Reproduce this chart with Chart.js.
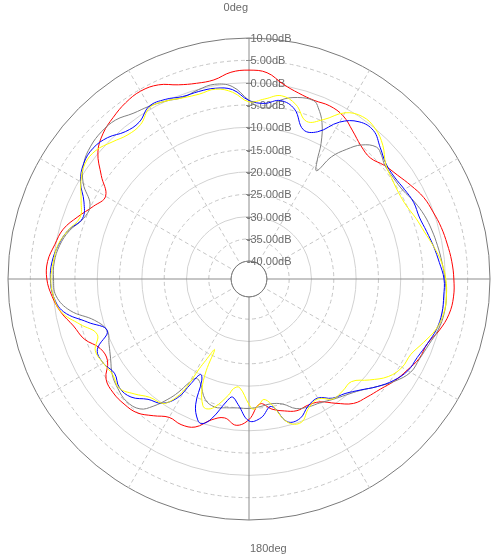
<!DOCTYPE html>
<html>
<head>
<meta charset="utf-8">
<script src="https://cdn.jsdelivr.net/npm/chart.js@4/dist/chart.umd.min.js"></script>
<style>
  html, body { margin: 0; padding: 0; background: #fff; }
  #wrap { width: 495px; height: 558px; }
</style>
</head>
<body>
<div id="wrap"><canvas id="chart"></canvas></div>
<script>
// radial ticks (dB) and the two direction captions
const tickValues = [-40, -35, -30, -25, -20, -15, -10, -5, 0, 5, 10];
const angleLabels = ['0deg', '180deg'];

// each trace: angle in degrees (clockwise from top) and level in dB
const redAngles = [0,5,10,15,20,25,30,35,40,45,50,55,60,65,70,75,80,85,90,95,100,105,110,115,120,125,130,135,140,145,150,155,160,165,170,175,180,185,190,195,200,205,210,215,220,225,230,235,240,245,250,255,260,265,270,275,280,285,290,295,300,305,310,315,320,325,330,335,340,345,350,355];
const redDb = [2.8,2.4,0.3,-0.9,-1.4,-1.2,-1.8,-3.5,-5.0,-5.6,-4.4,-3.4,-2.1,-0.8,-0.1,0.6,1.1,1.6,1.9,2.0,1.5,0.2,-1.5,-1.9,-3.1,-4.2,-5.6,-6.6,-7.6,-10.0,-12.2,-12.8,-12.6,-13.4,-14.4,-15.9,-12.5,-11.1,-12.4,-11.3,-8.7,-8.0,-8.2,-6.6,-4.9,-4.4,-4.3,-4.9,-7.4,-7.2,-4.7,-3.3,-1.2,0.3,1.3,1.3,0.2,-0.9,-3.2,-5.5,-6.9,-3.6,0.2,2.2,3.3,4.2,4.6,4.0,2.3,1.4,1.3,2.5];

const grayAngles = [0,3,5,7,10,15,20,22,25,28,30,32,34,37,40,44,47,50,55,60,65,70,75,80,85,90,95,100,105,110,115,120,125,130,135,140,145,150,155,160,165,170,175,180,185,190,195,200,205,208,210,212,214,217,220,225,230,235,240,245,250,255,260,265,270,275,280,285,290,295,300,305,310,315,320,325,330,335,340,345,350,355];
const grayDb = [-4.0,-5.3,-5.5,-5.2,-3.3,-1.9,-1.5,-2.6,-5.3,-9.6,-13.5,-15.4,-11.0,-7.6,-4.8,-2.9,-3.4,-4.3,-4.5,-4.2,-3.1,-2.2,-1.6,-1.1,-0.6,-0.1,0.4,0.4,-0.1,-1.1,-1.8,-2.2,-4.1,-6.5,-8.7,-10.1,-11.1,-12.0,-12.4,-13.1,-15.0,-15.6,-15.3,-15.0,-15.0,-14.7,-14.3,-15.3,-18.2,-18.8,-17.2,-14.0,-11.5,-8.3,-6.0,-5.2,-5.7,-6.6,-8.2,-9.4,-10.2,-8.2,-3.3,-0.6,-0.2,-0.2,-0.9,-2.3,-4.5,-4.7,-1.1,1.2,2.3,2.7,2.5,1.3,0.7,0.0,-0.7,-0.1,0.3,-0.7];

const blueAngles = [0,5,10,15,20,25,30,35,40,45,50,55,60,65,70,75,80,85,90,95,100,105,110,115,120,125,130,135,140,145,150,155,160,165,170,175,180,185,188,190,195,198,200,203,205,207,209,211,215,220,225,230,235,240,245,250,255,260,265,270,275,280,285,290,295,300,305,310,315,320,325,330,335,340,345,350,355];
const blueDb = [-4.0,-4.5,-3.4,-4.6,-8.4,-7.6,-3.4,-1.0,-0.6,-2.4,-3.9,-4.2,-3.8,-3.3,-3.4,-2.8,-2.0,-1.2,-0.3,-0.2,-0.1,-0.5,-1.5,-2.4,-2.9,-4.4,-6.5,-8.8,-10.5,-11.4,-13.2,-12.6,-10.7,-10.9,-15.0,-12.8,-12.2,-15.8,-17.3,-16.4,-11.6,-9.9,-10.4,-13.4,-19.0,-20.0,-17.2,-13.0,-10.0,-8.8,-6.6,-6.1,-7.2,-6.3,-6.5,-10.2,-6.6,-1.8,0.0,0.5,0.3,-0.6,-2.0,-4.3,-3.2,-0.4,1.2,1.6,0.8,-0.9,-1.1,0.7,0.4,-0.5,-0.5,-0.6,-1.4];

const yellowAngles = [0,5,10,15,20,25,30,35,40,45,50,55,60,65,70,75,80,85,90,95,100,105,110,115,120,125,130,135,140,145,150,155,160,165,170,173,175,178,180,185,188,190,195,198,200,203,205,206,208,209,210,211,213,215,220,225,230,235,240,245,250,255,260,265,270,275,280,285,290,295,300,305,310,315,320,325,330,335,340,345,350,355];
const yellowDb = [-4.3,-3.5,-2.3,-3.5,-6.4,-4.6,-1.0,0.4,0.0,-1.6,-4.0,-4.9,-5.3,-5.1,-4.2,-3.3,-2.0,-0.7,0.1,0.4,0.3,-0.6,-2.4,-4.0,-4.4,-5.9,-8.8,-11.5,-11.3,-11.2,-13.0,-12.2,-9.8,-10.8,-15.6,-16.8,-16.0,-14.8,-15.9,-19.6,-19.2,-17.6,-14.3,-13.4,-13.8,-17.0,-21.3,-26.4,-23.3,-21.0,-16.0,-13.8,-11.2,-10.0,-9.4,-7.6,-6.0,-6.7,-6.3,-6.0,-7.8,-4.8,-1.3,0.0,0.4,0.0,-0.5,-2.0,-3.7,-2.5,-0.5,0.9,0.8,-0.6,-1.8,-1.7,0.4,0.0,-0.8,-1.1,-0.8,-2.0];

const axisColor = '#8c8c8c';
const ringColor = '#d2d2d2';
const dashColor = '#c6c6c6';
const textColor = '#6a6a6a';

// one slot per degree; empty slots are bridged with spanGaps
const degrees = Array.from({length: 360}, (_, i) => String(i));
function toRing(angles, values) {
  const out = new Array(360).fill(null);
  angles.forEach((a, i) => { out[a % 360] = values[i]; });
  return out;
}
function trace(angles, values, color) {
  return {
    data: toRing(angles, values),
    borderColor: color,
    borderWidth: 1,
    pointRadius: 0,
    pointHoverRadius: 0,
    fill: false,
    spanGaps: true,
    tension: 0.4
  };
}

// inner hole, dB ticks and the 0/180 captions
const polarDecor = {
  id: 'polarDecor',
  beforeDatasetsDraw(chart) {
    const s = chart.scales.r, c = chart.ctx;
    const x0 = s.xCenter, y0 = s.yCenter;
    c.save();
    c.beginPath();
    c.arc(x0, y0, s.getDistanceFromCenterForValue(-40), 0, Math.PI * 2);
    c.fillStyle = '#fff';
    c.fill();
    c.strokeStyle = '#7a7a7a';
    c.lineWidth = 1;
    c.stroke();

    c.font = "11px 'Liberation Sans Narrow', 'Liberation Sans', sans-serif";
    c.textBaseline = 'middle';
    c.textAlign = 'left';
    c.fillStyle = textColor;
    const minus = c.measureText('-').width;
    tickValues.forEach(v => {
      const y = Math.round(y0 - s.getDistanceFromCenterForValue(v)) + 0.5;
      c.strokeStyle = axisColor;
      c.beginPath();
      c.moveTo(x0 - 3, y);
      c.lineTo(x0 + 3, y);
      c.stroke();
      c.fillText(v.toFixed(2) + 'dB', x0 + 1.5 - (v < 0 ? minus : 0), y);
    });

    const rMax = s.getDistanceFromCenterForValue(10);
    c.textAlign = 'right';
    c.fillText(angleLabels[0], x0 - 1, y0 - rMax - 30);
    c.textAlign = 'left';
    c.fillText(angleLabels[1], x0 + 1, y0 + rMax + 29);
    c.restore();
  }
};

new Chart(document.getElementById('chart'), {
  type: 'radar',
  data: {
    labels: degrees,
    datasets: [
      trace(yellowAngles, yellowDb, '#ffff00'),
      trace(blueAngles, blueDb, '#0000ff'),
      trace(grayAngles, grayDb, '#808080'),
      trace(redAngles, redDb, '#ff0000')
    ]
  },
  options: {
    responsive: true,
    maintainAspectRatio: false,
    animation: false,
    layout: { padding: { left: 8, right: 4, top: 38, bottom: 37 } },
    plugins: { legend: { display: false }, tooltip: { enabled: false } },
    scales: {
      r: {
        min: -44,
        max: 10,
        afterBuildTicks: s => { s.ticks = tickValues.map(v => ({ value: v })); },
        ticks: { display: false },
        pointLabels: { display: false },
        grid: {
          circular: true,
          lineWidth: 1,
          color: ctx => {
            const v = ctx.tick.value;
            if (v === 10 || v === -40) return '#7a7a7a';
            return v % 10 === 0 ? ringColor : dashColor;
          }
        },
        border: {
          dash: ctx => (ctx.tick && ctx.tick.value % 10 !== 0) ? [4, 3] : []
        },
        angleLines: {
          color: ctx => ctx.index % 90 === 0 ? axisColor : dashColor,
          lineWidth: ctx => ctx.index % 30 === 0 ? 1 : 0,
          borderDash: ctx => ctx.index % 90 === 0 ? [] : [4, 3]
        }
      }
    }
  },
  plugins: [polarDecor]
});
</script>
</body>
</html>
